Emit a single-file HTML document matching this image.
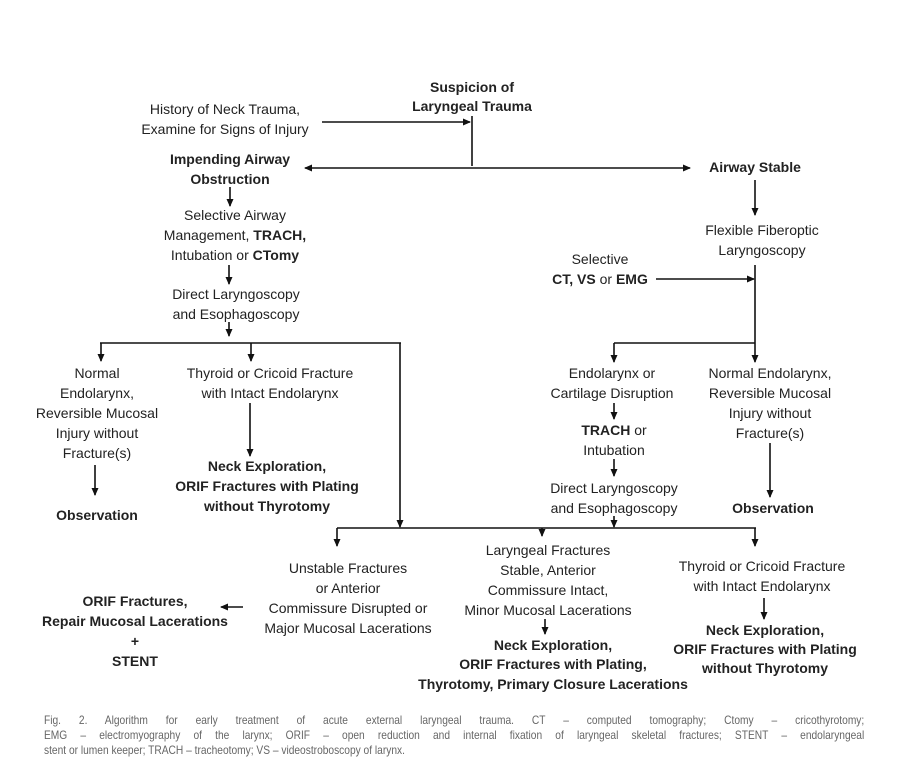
<!DOCTYPE html>
<html><head><meta charset="utf-8"><style>
html,body{margin:0;padding:0;background:#fff;}
svg{display:block;}
text{font-family:"Liberation Sans",Arial,sans-serif;font-size:14px;fill:#222;text-anchor:middle;}
.b{font-weight:bold;}
line{stroke:#111;stroke-width:1.6;}
#cap{position:absolute;left:44px;top:713px;width:965px;transform:scaleX(0.85);transform-origin:0 0;font-family:"Liberation Sans",Arial,sans-serif;font-size:12px;line-height:15px;color:#666;}
#cap div{white-space:nowrap;}
#cap .j{text-align:justify;text-align-last:justify;white-space:normal;}
</style></head><body>
<svg width="900" height="774" viewBox="0 0 900 774" xmlns="http://www.w3.org/2000/svg">
<defs><marker id="a" markerWidth="8" markerHeight="8" refX="7" refY="4" orient="auto" markerUnits="userSpaceOnUse"><path d="M0,0.5 L8,4 L0,7.5 z" fill="#111"/></marker></defs>

<text class="b" x="472" y="92">Suspicion of</text>
<text class="b" x="472" y="111">Laryngeal Trauma</text>
<text x="225" y="114">History of Neck Trauma,</text>
<text x="225" y="134">Examine for Signs of Injury</text>
<line x1="322" y1="122" x2="470" y2="122" marker-end="url(#a)"/>
<line x1="472" y1="116" x2="472" y2="166"/>
<line x1="472" y1="168" x2="305" y2="168" marker-end="url(#a)"/>
<line x1="472" y1="168" x2="690" y2="168" marker-end="url(#a)"/>
<text class="b" x="230" y="164">Impending Airway</text>
<text class="b" x="230" y="184">Obstruction</text>
<text class="b" x="755" y="172">Airway Stable</text>

<line x1="230" y1="187" x2="230" y2="206" marker-end="url(#a)"/>
<text x="235" y="220">Selective Airway</text>
<text x="235" y="240">Management, <tspan class="b">TRACH,</tspan></text>
<text x="235" y="260">Intubation or <tspan class="b">CTomy</tspan></text>
<line x1="229" y1="265" x2="229" y2="284" marker-end="url(#a)"/>
<text x="236" y="299">Direct Laryngoscopy</text>
<text x="236" y="319">and Esophagoscopy</text>
<line x1="229" y1="322" x2="229" y2="336" marker-end="url(#a)"/>
<line x1="100" y1="343" x2="401" y2="343"/>
<line x1="101" y1="343" x2="101" y2="361" marker-end="url(#a)"/>
<line x1="251" y1="343" x2="251" y2="361" marker-end="url(#a)"/>
<line x1="400" y1="343" x2="400" y2="527" marker-end="url(#a)"/>

<text x="97" y="378">Normal</text>
<text x="97" y="398">Endolarynx,</text>
<text x="97" y="418">Reversible Mucosal</text>
<text x="97" y="438">Injury without</text>
<text x="97" y="458">Fracture(s)</text>
<line x1="95" y1="465" x2="95" y2="495" marker-end="url(#a)"/>
<text class="b" x="97" y="520">Observation</text>

<text x="270" y="378">Thyroid or Cricoid Fracture</text>
<text x="270" y="398">with Intact Endolarynx</text>
<line x1="250" y1="403" x2="250" y2="456" marker-end="url(#a)"/>
<text class="b" x="267" y="471">Neck Exploration,</text>
<text class="b" x="267" y="491">ORIF Fractures with Plating</text>
<text class="b" x="267" y="511">without Thyrotomy</text>

<line x1="755" y1="180" x2="755" y2="215" marker-end="url(#a)"/>
<text x="762" y="235">Flexible Fiberoptic</text>
<text x="762" y="255">Laryngoscopy</text>
<text x="600" y="264">Selective</text>
<text class="b" x="600" y="284">CT, VS <tspan style="font-weight:normal">or</tspan> EMG</text>
<line x1="656" y1="279" x2="754" y2="279" marker-end="url(#a)"/>
<line x1="755" y1="265" x2="755" y2="362" marker-end="url(#a)"/>
<line x1="614" y1="343" x2="755" y2="343"/>
<line x1="614" y1="343" x2="614" y2="362" marker-end="url(#a)"/>

<text x="612" y="378">Endolarynx or</text>
<text x="612" y="398">Cartilage Disruption</text>
<line x1="614" y1="403" x2="614" y2="419" marker-end="url(#a)"/>
<text x="614" y="435"><tspan class="b">TRACH</tspan> or</text>
<text x="614" y="455">Intubation</text>
<line x1="614" y1="459" x2="614" y2="476" marker-end="url(#a)"/>
<text x="614" y="493">Direct Laryngoscopy</text>
<text x="614" y="513">and Esophagoscopy</text>
<line x1="614" y1="516" x2="614" y2="527" marker-end="url(#a)"/>

<text x="770" y="378">Normal Endolarynx,</text>
<text x="770" y="398">Reversible Mucosal</text>
<text x="770" y="418">Injury without</text>
<text x="770" y="438">Fracture(s)</text>
<line x1="770" y1="443" x2="770" y2="497" marker-end="url(#a)"/>
<text class="b" x="773" y="513">Observation</text>

<line x1="337" y1="528" x2="756" y2="528"/>
<line x1="337" y1="528" x2="337" y2="546" marker-end="url(#a)"/>
<line x1="542" y1="528" x2="542" y2="536" marker-end="url(#a)"/>
<line x1="755" y1="528" x2="755" y2="546" marker-end="url(#a)"/>

<text x="348" y="573">Unstable Fractures</text>
<text x="348" y="593">or Anterior</text>
<text x="348" y="613">Commissure Disrupted or</text>
<text x="348" y="633">Major Mucosal Lacerations</text>
<line x1="243" y1="607" x2="221" y2="607" marker-end="url(#a)"/>
<text class="b" x="135" y="606">ORIF Fractures,</text>
<text class="b" x="135" y="626">Repair Mucosal Lacerations</text>
<text class="b" x="135" y="646">+</text>
<text class="b" x="135" y="666">STENT</text>

<text x="548" y="555">Laryngeal Fractures</text>
<text x="548" y="575">Stable, Anterior</text>
<text x="548" y="595">Commissure Intact,</text>
<text x="548" y="615">Minor Mucosal Lacerations</text>
<line x1="545" y1="619" x2="545" y2="634" marker-end="url(#a)"/>
<text class="b" x="553" y="650">Neck Exploration,</text>
<text class="b" x="553" y="669">ORIF Fractures with Plating,</text>
<text class="b" x="553" y="689">Thyrotomy, Primary Closure Lacerations</text>

<text x="762" y="571">Thyroid or Cricoid Fracture</text>
<text x="762" y="591">with Intact Endolarynx</text>
<line x1="764" y1="598" x2="764" y2="619" marker-end="url(#a)"/>
<text class="b" x="765" y="635">Neck Exploration,</text>
<text class="b" x="765" y="654">ORIF Fractures with Plating</text>
<text class="b" x="765" y="673">without Thyrotomy</text>
</svg>
<div id="cap">
<div class="j">Fig. 2. Algorithm for early treatment of acute external laryngeal trauma. CT – computed tomography; Ctomy – cricothyrotomy;</div>
<div class="j">EMG – electromyography of the larynx; ORIF – open reduction and internal fixation of laryngeal skeletal fractures; STENT – endolaryngeal</div>
<div>stent or lumen keeper; TRACH – tracheotomy; VS – videostroboscopy of larynx.</div>
</div>
</body></html>
